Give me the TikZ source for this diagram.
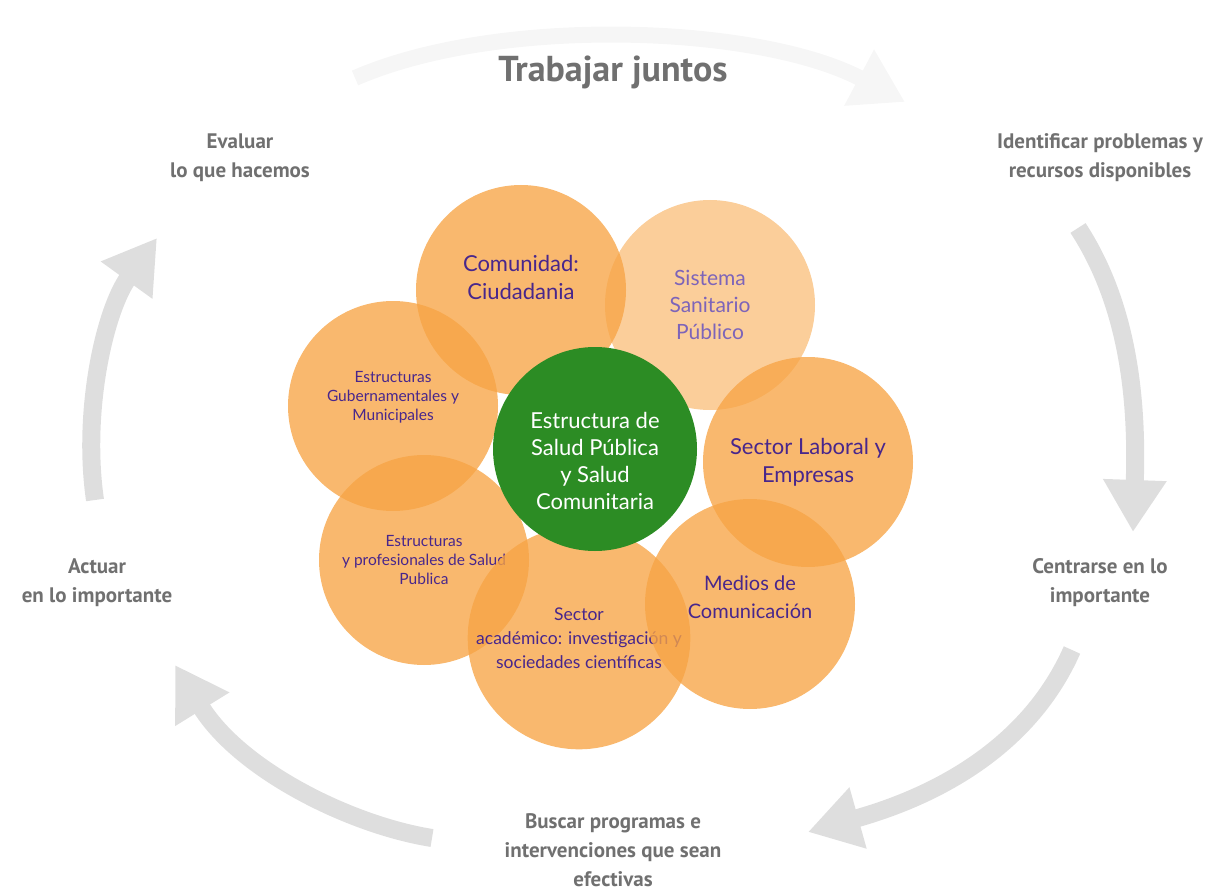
\documentclass[tikz,border=0pt]{standalone}
\usepackage{fontspec}
\setmainfont{Lato}
\newfontfamily\cyclefont{PT Sans}
\usepackage{tikz}
\usetikzlibrary{arrows.meta}

\definecolor{petal}{RGB}{247,164,69}
\definecolor{petaltext}{RGB}{72,38,140}
\definecolor{paletext}{RGB}{125,100,185}
\definecolor{core}{RGB}{44,140,36}
\definecolor{cyclegray}{RGB}{112,112,112}
\definecolor{arrowgray}{RGB}{222,222,222}

\begin{document}
\begin{tikzpicture}[x=1pt,y=-1pt,
                    cyclearrow/.style={draw=arrowgray,line width=18pt,
                      -{Triangle[length=52pt,width=60pt]}}]
  \tikzstyle{petal}=[circle,fill=petal,fill opacity=0.78,text opacity=1,
                     text=petaltext,minimum size=210pt,align=center,
                     font=\fontsize{22}{28}\selectfont]
  \tikzstyle{small}=[font=\fontsize{15.5}{19}\selectfont]
  \tikzstyle{step label}=[text=cyclegray,align=center,
                          font=\cyclefont\bfseries\fontsize{21}{29}\selectfont]

  \useasboundingbox (0,0) rectangle (1223,893);

  % the cycle around the flower
  \node (title) at (613,72)
    {\cyclefont\bfseries\fontsize{36}{40}\selectfont\color{cyclegray}Trabajar juntos};
  \node[step label] (evaluar)     at (240,158)  {Evaluar\\lo que hacemos};
  \node[step label] (identificar) at (1100,158) {Identificar problemas y\\recursos disponibles};
  \node[step label] (centrarse)   at (1100,583) {Centrarse en lo\\importante};
  \node[step label] (buscar)      at (613,850)
    {Buscar programas e\\intervenciones que sean\\efectivas};
  \node[step label] (actuar)      at (97,583)   {Actuar\\en lo importante};

  \coordinate (topS) at (355,78);   \coordinate (topE) at (905,102);
  \coordinate (rS)   at (1078,228); \coordinate (rE)   at (1133,532);
  \coordinate (brS)  at (1072,650); \coordinate (brE)  at (808,832);
  \coordinate (blS)  at (432,838);  \coordinate (blE)  at (175,665);
  \coordinate (lS)   at (95,500);   \coordinate (lE)   at (157,238);

  \draw[cyclearrow,draw=gray!7,line width=16pt]
    (topS) .. controls (500,15) and (760,25) .. (topE);
  \draw[cyclearrow] (rS)  .. controls (1125,300) and (1138,390) .. (rE);
  \draw[cyclearrow] (brS) .. controls (1030,745) and (940,795) .. (brE);
  \draw[cyclearrow] (blS) .. controls (350,825) and (240,770) .. (blE);
  \draw[cyclearrow] (lS)  .. controls (82,410) and (105,310) .. (lE);

  % the petals
  \node[petal,fill opacity=0.54,text=paletext,font=\fontsize{21}{27}\selectfont]
        (sanitario) at (710,305) {Sistema\\Sanitario\\P\'ublico};
  \node[petal] (comunidad) at (521,290)
        {Comunidad:\\Ciudadania\rule[-25pt]{0pt}{0pt}};
  \node[petal,small] (gobierno) at (393,406)
        {Estructuras\\Gubernamentales y\\Municipales\rule[-20pt]{0pt}{0pt}};
  \node[petal] (laboral) at (808,462) {Sector Laboral y\\Empresas};
  \node[petal,small] (profesionales) at (424,560)
        {Estructuras\\y profesionales de Salud\\Publica};
  \node[petal,font=\fontsize{17.5}{24}\selectfont] (academico) at (579,638)
        {Sector\\acad\'emico: investigaci\'on y\\sociedades cient\'ificas};
  \node[petal,font=\fontsize{20}{28}\selectfont]
        (medios) at (750,604) {Medios de\\Comunicaci\'on\rule[-14pt]{0pt}{0pt}};

  % the centre
  \node[circle,fill=core,text=white,minimum size=204pt,align=center,
        font=\fontsize{22}{27}\selectfont]
        (centro) at (595,449)
        {\rule{0pt}{40pt}Estructura de\\Salud P\'ublica\\y Salud\\Comunitaria};
\end{tikzpicture}
\end{document}
